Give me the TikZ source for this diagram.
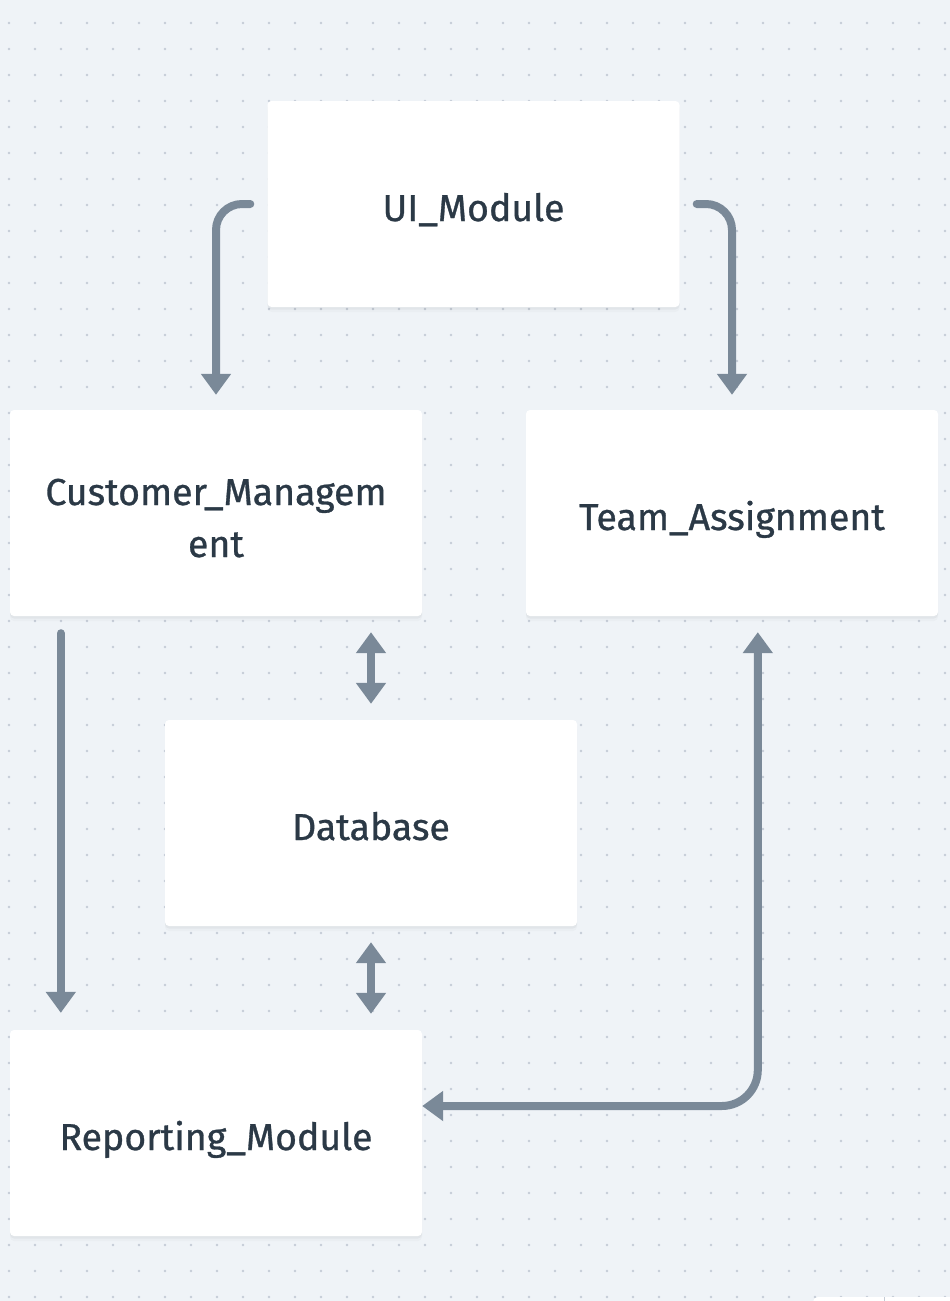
\documentclass[tikz,border=0pt]{standalone}
\usepackage{fontspec}
\setmainfont{Fira Sans}[RawFeature={embolden=0.8}]
\usetikzlibrary{arrows.meta,calc}
\definecolor{bg}{HTML}{EFF3F7}
\definecolor{dotc}{HTML}{C5CCD6}
\definecolor{arr}{HTML}{7A8998}
\definecolor{txt}{HTML}{2B3946}
\newcommand{\placed}[2]{\raisebox{#1}[0pt][0pt]{#2}}
\begin{document}
\begin{tikzpicture}[x=1pt,y=-1pt,
  box/.style={fill=white, rounded corners=4pt, minimum width=412pt, minimum height=206pt,
    inner sep=0pt, text=txt, font=\fontsize{37.5}{52}\selectfont, align=center,
    preaction={fill=black, opacity=0.035, transform canvas={yshift=-2.5pt}},
    preaction={fill=black, opacity=0.02, transform canvas={yshift=-5pt}}},
  conn/.style={draw=arr, line width=8pt, line cap=round},
  tip/.style={-{Triangle[width=29pt,length=21pt]}},
  dtip/.style={{Triangle[width=29pt,length=21pt]}-{Triangle[width=29pt,length=21pt]}}]
\useasboundingbox (0,0) rectangle (950,1301);
\fill[bg] (0,0) rectangle (950,1301);
\foreach \i in {0,...,36}{
  \foreach \j in {0,...,49}{
    \fill[dotc] (9+26*\i, 23+26*\j) circle (1.4pt);
  }
}
% small partial shape at bottom right
\fill[white, rounded corners=5pt] (813,1297) rectangle (960,1320);
\draw[dotc, line width=0.8pt] (884,1297) -- (884,1301);

\node[box] (UI) at (473.5,204) {\placed{-17pt}{UI\_Module}};
\node[box] (CM) at (216,513) {\placed{8pt}{\begin{tabular}[t]{@{}c@{}}Customer\_Managem\\ent\end{tabular}}};
\node[box] (TA) at (732,513) {\placed{-17pt}{Team\_Assignment}};
\node[box] (DB) at (371,823) {\placed{-17pt}{Database}};
\node[box] (RM) at (216,1133) {\placed{-17pt}{Reporting\_Module}};

\coordinate (c1s) at ($(CM.south west)+(51,0)$);
\coordinate (c1e) at ($(RM.north west)+(51,0)$);
\coordinate (t1s) at ($(TA.south west)+(232,0)$);
\coordinate (r1e) at ($(RM.east)+(0,-27)$);

\draw[conn, tip, rounded corners=26pt, shorten <=17pt, shorten >=15pt] (UI.west) -| (CM.north);
\draw[conn, tip, rounded corners=26pt, shorten <=17pt, shorten >=15pt] (UI.east) -| (TA.north);
\draw[conn, tip, shorten <=17pt, shorten >=17pt] (c1s) -- (c1e);
\draw[conn, dtip, shorten <=16pt, shorten >=16pt] (CM.south -| DB.north) -- (DB.north);
\draw[conn, dtip, shorten <=16pt, shorten >=16pt] (DB.south) -- (RM.north -| DB.south);
\draw[conn, dtip, rounded corners=36pt, shorten <=16pt, shorten >=0pt] (t1s) |- (r1e);
\end{tikzpicture}
\end{document}
